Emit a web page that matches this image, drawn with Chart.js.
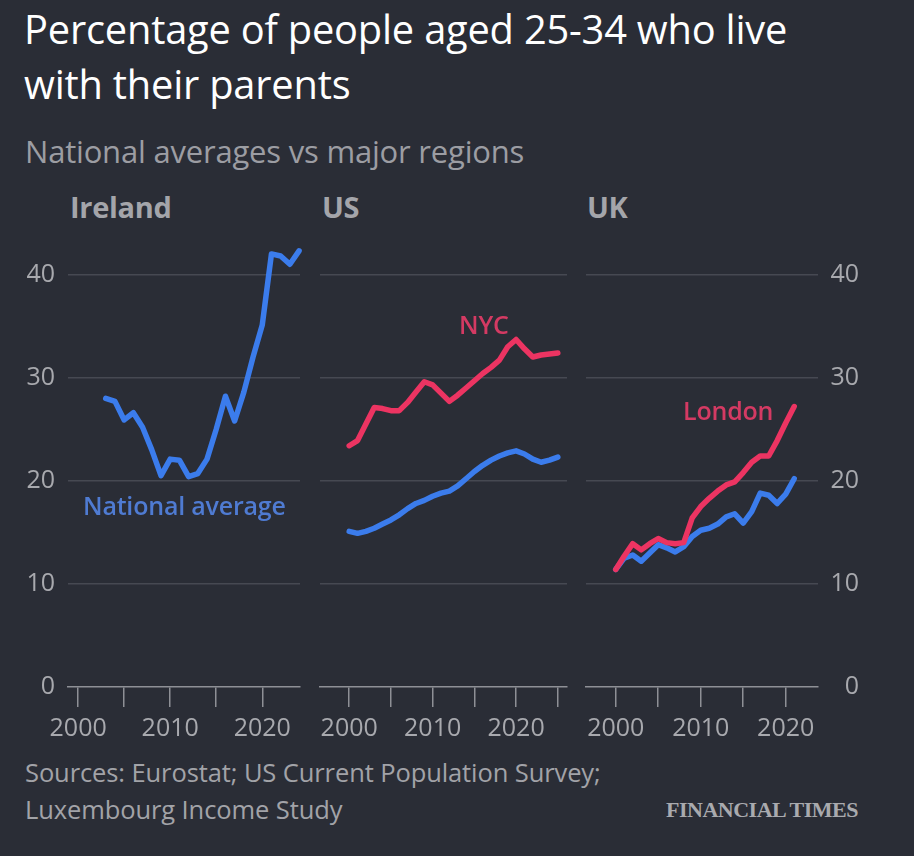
<!DOCTYPE html>
<html>
<head>
<meta charset="utf-8">
<script src="https://cdn.jsdelivr.net/npm/chart.js@4.4.0/dist/chart.umd.min.js"></script>
<style>
  body { margin: 0; background: #2a2d36; width: 914px; height: 856px; overflow: hidden; position: relative; font-family: "Open Sans", sans-serif; }
  .txt { position: absolute; white-space: nowrap; }
  #title { left: 24px; top: 1px; font-size: 39.8px; line-height: 55px; color: #ffffff; letter-spacing: -0.2px; }
  #subtitle { left: 25px; top: 130px; font-size: 31px; color: #9c9da3; letter-spacing: -0.2px; }
  .panelTitle { top: 187px; font-size: 29px; font-weight: 700; color: #a4a5aa; letter-spacing: -0.3px; }
  .note { font-size: 25px; font-weight: 600; letter-spacing: -0.2px; }
  #source { left: 25px; top: 754px; font-size: 25.5px; line-height: 37px; color: #a2a3a8; letter-spacing: -0.1px; }
  #ft { right: 56px; top: 797px; font-family: "Liberation Serif", serif; font-size: 22px; font-weight: 700; color: #a9aaae; letter-spacing: -0.5px; }
  .panel { position: absolute; top: 223px; height: 524px; }
</style>
</head>
<body>
<div class="txt" id="title">Percentage of people aged 25-34 who live<br>with their parents</div>
<div class="txt" id="subtitle">National averages vs major regions</div>
<div class="txt panelTitle" style="left:70px">Ireland</div>
<div class="txt panelTitle" style="left:322px">US</div>
<div class="txt panelTitle" style="left:587px">UK</div>

<div class="panel" style="left:0px; width:305px"><canvas id="ireland"></canvas></div>
<div class="panel" style="left:315px; width:257px"><canvas id="us"></canvas></div>
<div class="panel" style="left:581px; width:278px"><canvas id="uk"></canvas></div>

<div class="txt note" style="left:83px; top:488px; color:#4f7bd2">National average</div>
<div class="txt note" style="left:459px; top:307px; color:#d43a63">NYC</div>
<div class="txt note" style="left:683px; top:393px; color:#d43a63">London</div>

<div class="txt" id="source">Sources: Eurostat; US Current Population Survey;<br>Luxembourg Income Study</div>
<div class="txt" id="ft">FINANCIAL TIMES</div>

<script>
// dati (percentuale 25-34enni che vivono con i genitori)
const irelandYears = [2003, 2004, 2005, 2006, 2007, 2008, 2009, 2010, 2011, 2012, 2013,
  2014, 2015, 2016, 2017, 2018, 2019, 2020, 2021, 2022, 2023, 2024];
const irelandNational = [28.0, 27.7, 25.9, 26.6, 25.2, 23.0, 20.5, 22.1, 22.0, 20.4, 20.7,
  22.1, 25.0, 28.2, 25.8, 28.6, 32.0, 35.1, 42.0, 41.8, 41.0, 42.3];

const usYears = [2000, 2001, 2002, 2003, 2004, 2005, 2006, 2007, 2008, 2009, 2010, 2011, 2012,
  2013, 2014, 2015, 2016, 2017, 2018, 2019, 2020, 2021, 2022, 2023, 2024, 2025];
const usNational = [15.1, 14.9, 15.1, 15.4, 15.8, 16.2, 16.7, 17.3, 17.8, 18.1, 18.5, 18.8, 19.0,
  19.5, 20.2, 20.9, 21.5, 22.0, 22.4, 22.7, 22.9, 22.6, 22.1, 21.8, 22.0, 22.3];
const usNYC = [23.4, 23.9, 25.5, 27.1, 27.0, 26.8, 26.8, 27.6, 28.6, 29.6, 29.3, 28.5, 27.7,
  28.3, 29.0, 29.7, 30.4, 31.0, 31.7, 33.0, 33.7, 32.8, 32.0, 32.2, 32.3, 32.4];

const ukYears = [2000, 2001, 2002, 2003, 2004, 2005, 2006, 2007, 2008, 2009, 2010,
  2011, 2012, 2013, 2014, 2015, 2016, 2017, 2018, 2019, 2020, 2021];
const ukNational = [11.4, 12.5, 12.8, 12.2, 13.0, 13.8, 13.5, 13.1, 13.6, 14.6, 15.2,
  15.4, 15.8, 16.5, 16.8, 15.9, 17.0, 18.8, 18.6, 17.8, 18.7, 20.2];
const ukLondon = [11.4, 12.7, 13.9, 13.3, 13.9, 14.4, 14.0, 13.9, 14.0, 16.4, 17.5,
  18.3, 19.0, 19.6, 19.9, 20.8, 21.8, 22.4, 22.4, 23.9, 25.6, 27.2];

const yTicks = [0, 10, 20, 30, 40];
const xLabelYears = [2000, 2010, 2020];

const BLUE = '#3b7cec';
const RED = '#ec3462';
const AXIS = '#8e9096';
const GRID = '#464952';
const TICKTEXT = '#a8a9ae';

function toPoints(years, values) {
  return years.map((y, i) => ({ x: y, y: values[i] }));
}

function lineSet(years, values, color) {
  return {
    data: toPoints(years, values),
    borderColor: color,
    borderWidth: 5.5,
    pointRadius: 0,
    tension: 0,
    borderJoinStyle: 'round',
    borderCapStyle: 'round',
    clip: 8
  };
}

// Funzione per creare un pannello
function createPanel(id, datasets, xMin, xMax, yPos, yWidth, padding) {
  let ctx = document.getElementById(id);
  return new Chart(ctx, {
    type: 'line',
    data: { datasets: datasets },
    options: {
      responsive: true,
      maintainAspectRatio: false,
      animation: false,
      events: [],
      layout: { padding: padding },
      plugins: { legend: { display: false }, tooltip: { enabled: false } },
      scales: {
        x: {
          type: 'linear',
          min: xMin,
          max: xMax,
          border: { display: true, color: AXIS, width: 1.5 },
          grid: { display: true, drawOnChartArea: false, drawTicks: true, tickLength: 20, color: AXIS, lineWidth: 1.5 },
          ticks: {
            stepSize: 5,
            includeBounds: false,
            autoSkip: false,
            maxRotation: 0,
            padding: 7,
            color: TICKTEXT,
            font: { family: 'Open Sans', size: 25 },
            callback: v => xLabelYears.includes(v) ? String(v) : ''
          },
          afterFit: s => { s.height = 60; s.paddingLeft = 0; s.paddingRight = 0; }
        },
        y: {
          position: yPos,
          min: 0,
          max: 45,
          border: { display: false },
          grid: {
            drawTicks: false,
            color: c => c.tick && c.tick.value === 0 ? 'rgba(0,0,0,0)' : GRID,
            lineWidth: 1.5
          },
          ticks: {
            display: yWidth > 0,
            stepSize: 10,
            includeBounds: false,
            padding: 13,
            crossAlign: yPos === 'right' ? 'far' : 'near',
            color: TICKTEXT,
            font: { family: 'Open Sans', size: 25 }
          },
          afterBuildTicks: s => { s.ticks = yTicks.map(v => ({ value: v })); },
          afterFit: s => { s.width = yWidth; s.paddingTop = 0; s.paddingBottom = 0; }
        }
      }
    }
  });
}

createPanel('ireland', [lineSet(irelandYears, irelandNational, BLUE)],
  1998.9, 2024.1, 'left', 68, { left: 0, right: 5, top: 0, bottom: 0 });
createPanel('us', [lineSet(usYears, usNYC, RED), lineSet(usYears, usNational, BLUE)],
  1996.5, 2026.1, 'left', 0, { left: 5, right: 5, top: 0, bottom: 0 });
createPanel('uk', [lineSet(ukYears, ukLondon, RED), lineSet(ukYears, ukNational, BLUE)],
  1996.5, 2023.8, 'right', 41, { left: 5, right: 0, top: 0, bottom: 0 });
</script>
</body>
</html>
